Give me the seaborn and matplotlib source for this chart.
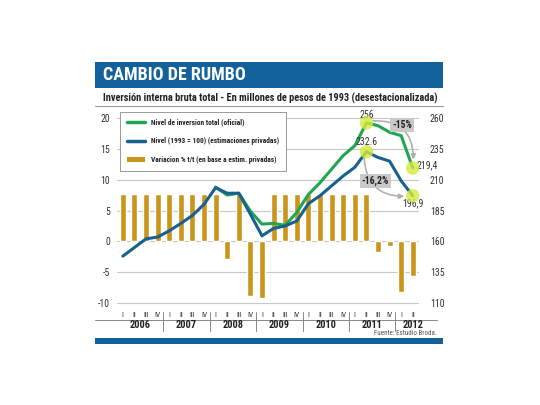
import numpy as np
import pandas as pd
import matplotlib
matplotlib.use("Agg")
import matplotlib.pyplot as plt
import matplotlib.transforms as mtransforms
from matplotlib.lines import Line2D
from matplotlib.patches import Patch, Rectangle
import seaborn as sns

sns.set_style("white")
plt.rcParams["font.family"] = ["Roboto Condensed", "DejaVu Sans"]

# datos
years = ["2006", "2007", "2008", "2009", "2010", "2011", "2012"]
quarter_names = ["I", "II", "III", "IV"]
quarters = [f"{y}-{q}" for y in years for q in quarter_names][:26]

# variacion % t/t (eje izquierdo)
variacion = [7.6, 7.6, 7.6, 7.6, 7.6, 7.6, 7.6, 7.6, 7.6, -2.8,
             7.6, -8.9, -9.1, 7.6, 7.6, 7.6, 7.6, 7.6, 7.6, 7.6,
             7.6, 7.6, -1.7, -0.8, -8.2, -5.6]

# nivel 1993=100, estimaciones privadas (eje derecho)
nivel_privado = [148, 155, 162, 163.5, 168.5, 174.5, 181, 190, 203.5, 199,
                 199, 182, 164.5, 170.5, 172.5, 176.5, 190.5, 197, 205, 213,
                 220, 232.6, 228, 225, 209, 196.9]

# nivel de inversion total oficial (eje derecho), empieza en 2008-I
nivel_oficial = [np.nan] * 8 + [204, 197.5, 199, 184.5, 174, 174.5, 173, 183.5,
                                198, 207.5, 218.5, 229.5, 237.5, 256, 253.7,
                                248.4, 245.6, 219.4]

left_ticks = [-10, -5, 0, 5, 10, 15, 20]
right_ticks = [110, 135, 160, 185, 210, 235, 260]

c_banner = "#13619b"
c_green = "#1fa650"
c_blue = "#17608f"
c_gold = "#c9961b"
c_grid = "#c8c8c8"
c_text = "#333333"

W, H = 540, 405
fig = plt.figure(figsize=(5.4, 4.05), dpi=100)
fig.patch.set_facecolor("white")

def fx(px):
    return px / W

def fy(py):
    return 1 - py / H

ax = fig.add_axes([fx(117), fy(308), 301.6 / W, 195 / H])
ax.set_facecolor("none")

sns.barplot(x=quarters, y=variacion, color=c_gold, saturation=1, width=0.52,
            ax=ax, zorder=2)
ax.set_xlim(-0.5, 25.5)
ax.set_ylim(-10.8, 20.8)
ax.set_yticks(left_ticks)
ax.set_yticklabels([str(t) for t in left_ticks], fontsize=7, color=c_text)
ax.tick_params(axis="y", length=0, pad=5)
ax.set_xticks([])
ax.set_xlabel("")
ax.grid(axis="y", color=c_grid, lw=0.8, zorder=0)
ax.set_axisbelow(True)
for s in ax.spines.values():
    s.set_visible(False)

ax2 = ax.twinx()
ax2.set_ylim(160 + 5 * -10.8, 160 + 5 * 20.8)
x_idx = np.arange(len(quarters))
lines = pd.DataFrame({"x": x_idx, "oficial": nivel_oficial, "privado": nivel_privado})
sns.lineplot(data=lines, x="x", y="oficial", color=c_green, lw=2.2, ax=ax2)
sns.lineplot(data=lines, x="x", y="privado", color=c_blue, lw=2.2, ax=ax2)
ax2.set_yticks(right_ticks)
ax2.set_yticklabels([str(t) for t in right_ticks], fontsize=7, color=c_text)
ax2.tick_params(axis="y", length=0, pad=8)
ax2.set_xlabel("")
ax2.set_ylabel("")
ax.set_ylabel("")
for s in ax2.spines.values():
    s.set_visible(False)

# puntos destacados
hx = [21, 25, 21, 25]
hy = [256, 219.4, 232.6, 196.9]
ax2.scatter(hx, hy, s=95, color="#d6ea3c", alpha=0.8, edgecolor="none", zorder=4)
ax2.text(21, 262.5, "256", ha="center", va="center", fontsize=7, color=c_text, clip_on=False)
ax2.text(21, 240.5, "232.6", ha="center", va="center", fontsize=7, color=c_text)
ax2.text(25.3, 222, "219,4", ha="left", va="center", fontsize=7, color=c_text)
ax2.text(25.0, 190.8, "196,9", ha="center", va="center", fontsize=7, color=c_text)

# flechas
ax2.annotate("", xy=(25.05, 224), xytext=(21.3, 257.5),
             arrowprops=dict(arrowstyle="-|>", color="#b0b0b0", lw=1.2,
                             connectionstyle="arc3,rad=-0.55", mutation_scale=7))
ax2.annotate("", xy=(24.5, 196.5), xytext=(20.8, 230),
             arrowprops=dict(arrowstyle="-|>", color="#b0b0b0", lw=1.2,
                             connectionstyle="arc3,rad=0.5", mutation_scale=7))
box = dict(boxstyle="square,pad=0.2", facecolor="#c9c9c9", edgecolor="none")
ax2.text(24.08, 254.3, "-15%", ha="center", va="center", fontsize=7,
         fontweight="bold", color="#222222", bbox=box, zorder=5)
ax2.text(21.75, 208.8, "-16,2%", ha="center", va="center", fontsize=7,
         fontweight="bold", color="#222222", bbox=box, zorder=5)

# leyenda
handles = [Line2D([], [], color=c_green, lw=2.5),
           Line2D([], [], color=c_blue, lw=2.5),
           Patch(facecolor=c_gold, edgecolor="none")]
labels = ["Nivel de inversion total (oficial)",
          "Nivel (1993 = 100) (estimaciones privadas)",
          "Variacion % t/t (en base a estim. privadas)"]
leg = fig.legend(handles, labels, loc="upper left",
                 bbox_to_anchor=(fx(120), fy(111.5)), borderaxespad=0,
                 frameon=True, fancybox=False, framealpha=1,
                 edgecolor="#8a8a8a", fontsize=5.3, handlelength=2.5,
                 labelspacing=1.45, borderpad=0.95, handletextpad=0.75)
leg.get_frame().set_linewidth(0.6)
for t in leg.get_texts():
    t.set_fontweight("bold")
    t.set_color("#222222")

# eje x: trimestres y años
bt = mtransforms.blended_transform_factory(ax.transData, fig.transFigure)
roman = (quarter_names * 7)[:26]
for i, q in enumerate(roman):
    fig.text(i, fy(315), q, transform=bt, ha="center", va="center",
             fontsize=5.5, color=c_text)
for k in range(6):
    fig.add_artist(Line2D([k * 4 + 3.5] * 2, [fy(312), fy(331)], transform=bt,
                          color="#888888", lw=0.7))
for k, y in enumerate(years):
    xc = k * 4 + 1.5 if k < 6 else 25.0
    fig.text(xc, fy(325.5), y, transform=bt, ha="center", va="center",
             fontsize=7.5, fontweight="bold", color="#222222")
fig.add_artist(Line2D([fx(95), fx(437)], [fy(320), fy(320)], color="#888888", lw=0.7))

# titulo y marcos
fig.add_artist(Rectangle((fx(95), fy(88)), 348 / W, 26 / H, color=c_banner, lw=0))
fig.text(fx(103), fy(75.5), "CAMBIO DE RUMBO", ha="left", va="center",
         fontsize=13, fontweight="bold", color="white")
fig.text(fx(103), fy(98), "Inversión interna bruta total - En millones de pesos de 1993 (desestacionalizada)",
         ha="left", va="center", fontsize=7.5, fontweight="bold", color="#222222")
fig.add_artist(Line2D([fx(95), fx(443)], [fy(105.5), fy(105.5)], color="#999999", lw=0.8))
fig.text(fx(437), fy(333.5), "Fuente: Estudio Broda.", ha="right", va="center",
         fontsize=5, color="#555555")
fig.add_artist(Rectangle((fx(95), fy(344)), 348 / W, 6 / H, color=c_banner, lw=0))

fig.savefig("out.png", dpi=100)
